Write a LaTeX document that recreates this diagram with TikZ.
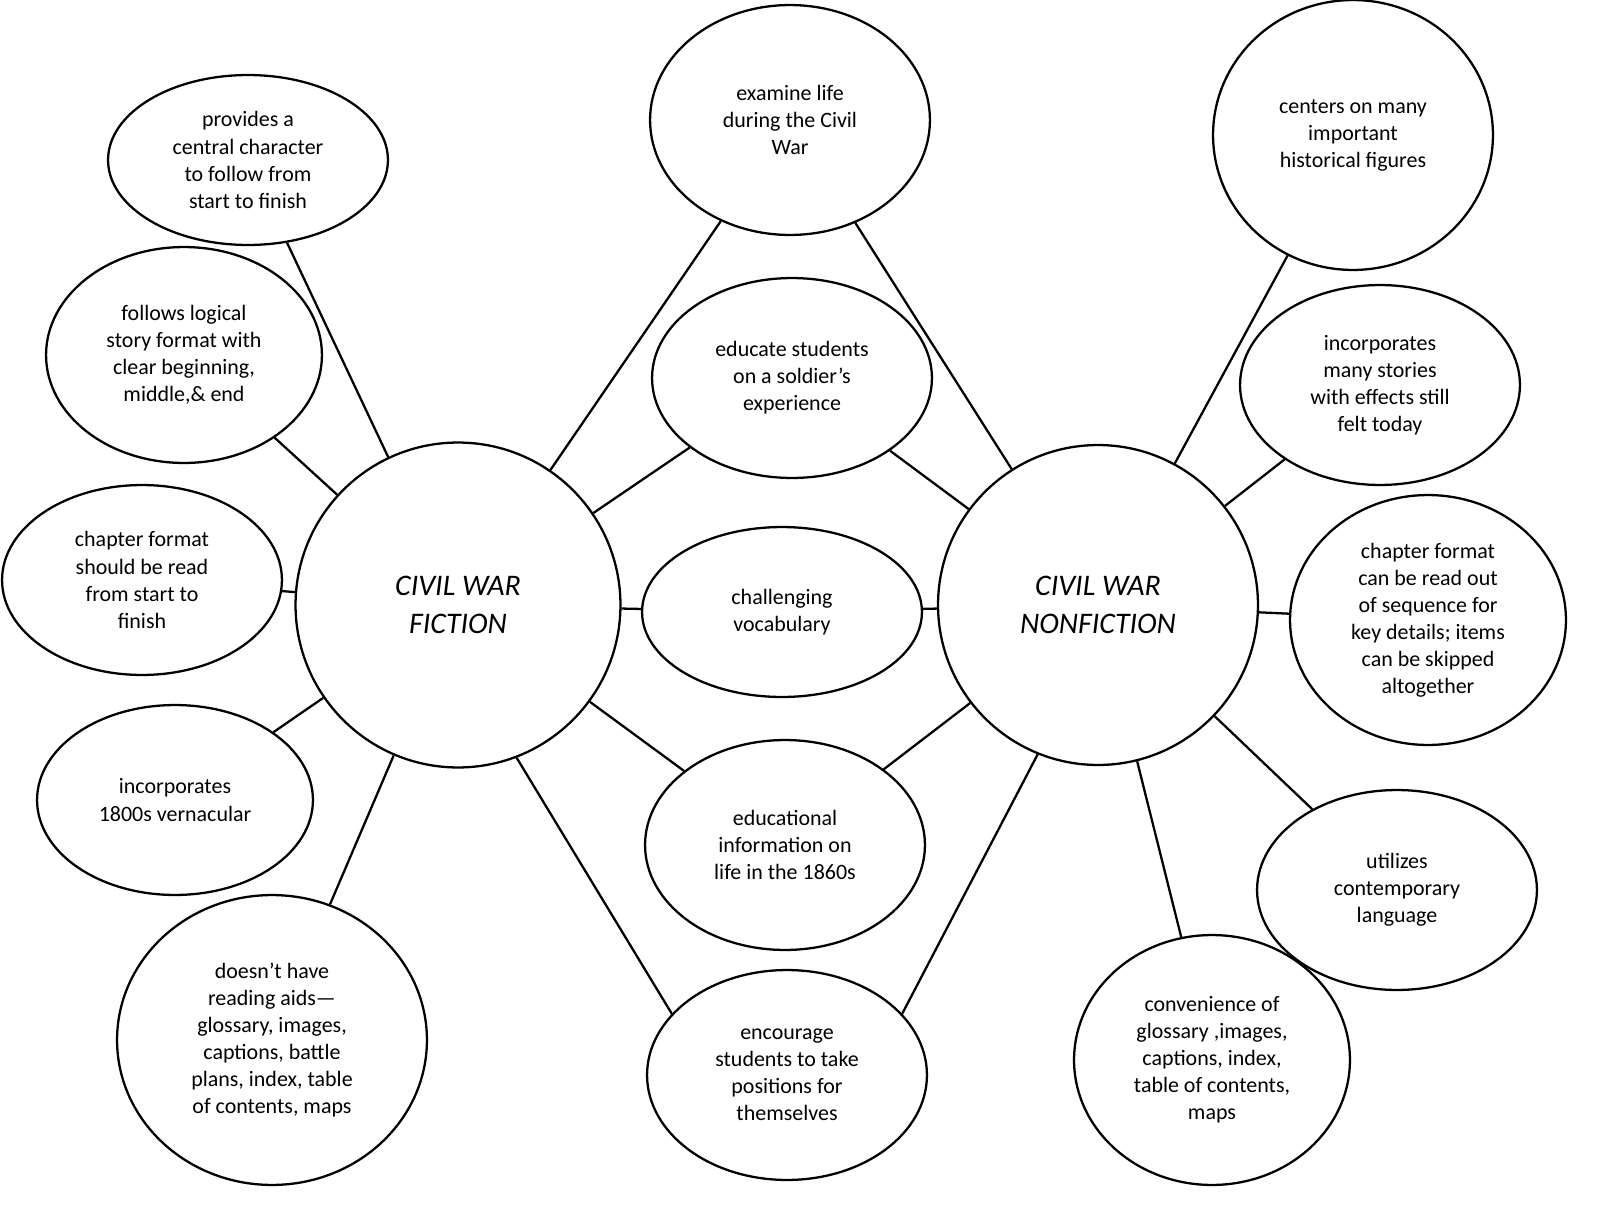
\documentclass[tikz,border=0pt]{standalone}
\usepackage{fontspec}
\setmainfont{Carlito}
\usetikzlibrary{shapes.geometric}
\begin{document}
\begin{tikzpicture}[x=0.02cm,y=-0.02cm,
  bub/.style={draw,line width=1.3pt,ellipse,inner sep=0pt,align=center,font=\fontsize{12.5}{15.4}\selectfont},
  hub/.style={draw,line width=1.3pt,circle,inner sep=0pt,minimum size=6.5cm,align=center,font=\fontsize{17}{22}\selectfont\itshape},
  con/.style={line width=1.3pt}]
\useasboundingbox (0,0) rectangle (1597,1207);
\def\E(#1)#2#3#4#5#6{\node[bub,minimum width=#3*0.04cm,minimum height=#4*0.04cm] (#1) at #2 {#5};}
\node[hub] (F) at (458,605) {CIVIL WAR\\FICTION};
\node[hub,minimum size=6.4cm] (N) at (1098,605) {CIVIL WAR\\NONFICTION};
\E(l1){(248,160)}{140}{85}{provides a\\central character\\to follow from\\start to finish}{}
\E(l2){(184,355)}{138}{108}{follows logical\\story format with\\clear beginning,\\middle,\& end}{}
\E(l3){(142,580)}{140}{95}{chapter format\\should be read\\from start to\\finish}{}
\E(l4){(175,800)}{138}{95}{incorporates\\1800s vernacular}{}
\E(l5){(272,1040)}{155}{145}{doesn’t have\\reading aids—\\glossary, images,\\captions, battle\\plans, index, table\\of contents, maps}{}
\E(m1){(790,120)}{140}{115}{examine life\\during the Civil\\War}{}
\E(m2){(792,378)}{140}{100}{educate students\\on a soldier’s\\experience}{}
\E(m3){(782,612)}{140}{85}{challenging\\vocabulary}{}
\E(m4){(785,845)}{140}{105}{educational\\information on\\life in the 1860s}{}
\E(m5){(787,1075)}{140}{105}{encourage\\students to take\\positions for\\themselves}{}
\E(r1){(1353,135)}{140}{135}{centers on many\\important\\historical figures}{}
\E(r2){(1380,385)}{140}{100}{incorporates\\many stories\\with effects still\\felt today}{}
\E(r3){(1428,620)}{138}{125}{chapter format\\can be read out\\of sequence for\\key details; items\\can be skipped\\altogether}{}
\E(r4){(1397,890)}{140}{100}{utilizes\\contemporary\\language}{}
\E(r5){(1212,1060)}{138}{125}{convenience of\\glossary ,images,\\captions, index,\\table of contents,\\maps}{}
\foreach \n in {l1,l2,l3,l4,l5,m1,m2,m3,m4} \draw[con] (F) -- (\n);
\foreach \n in {r1,r2,r3,r4,r5,m1,m2,m3,m4} \draw[con] (N) -- (\n);
\draw[con] (F.-69) -- (m5.152);
\draw[con] (N.-112) -- (m5.28);
\end{tikzpicture}
\end{document}
